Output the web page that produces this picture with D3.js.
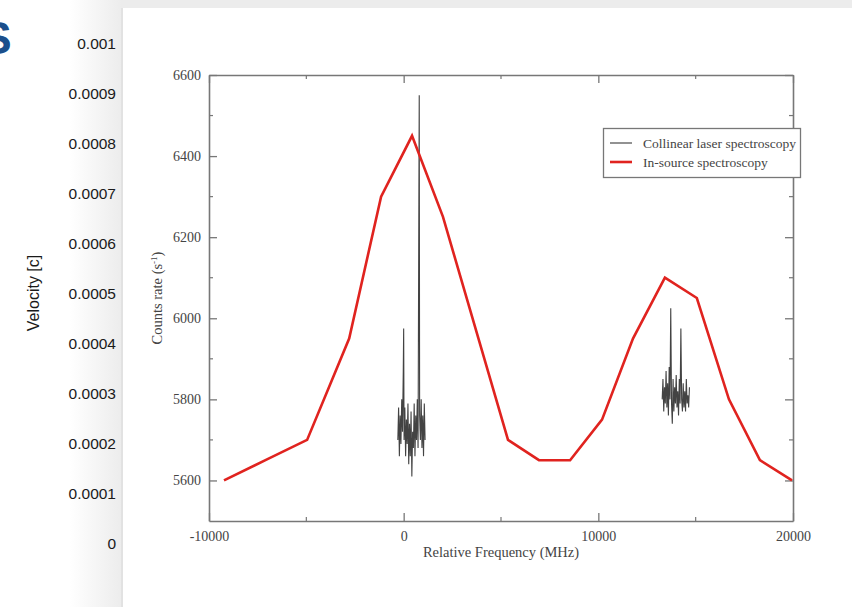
<!DOCTYPE html>
<html><head><meta charset="utf-8">
<script src="https://cdn.jsdelivr.net/npm/d3@7"></script>
<style>body{margin:0;background:#fff}svg{display:block}</style>
</head><body>
<svg id="c" width="852" height="607"></svg>
<script>
// ---- data ----
const velocityTicks = [0, 0.0001, 0.0002, 0.0003, 0.0004, 0.0005, 0.0006, 0.0007, 0.0008, 0.0009, 0.001];
const freqTicks = [-10000, 0, 10000, 20000];
const countTicks = [5600, 5800, 6000, 6200, 6400, 6600];
const inSourceFreq = [-9230, -7100, -4960, -2800, -1160, 430, 2020, 5360, 6950, 8550, 10190, 11780, 13420, 15060, 16710, 18300, 19950];
const inSourceCounts = [5600, 5650, 5700, 5950, 6300, 6450, 6250, 5700, 5650, 5650, 5750, 5950, 6100, 6050, 5800, 5650, 5600];
const collinear1Freq = [-300,-260,-220,-180,-140,-100,-60,-20,0,20,60,100,140,180,220,260,300,340,380,420,460,500,540,580,620,660,700,740,780,800,820,860,900,940,980,1020,1060,1100];
const collinear1Counts = [5700,5780,5660,5760,5690,5800,5720,5870,5975,5700,5780,5660,5750,5690,5790,5640,5740,5660,5770,5610,5720,5680,5790,5660,5760,5700,5800,5680,6280,6550,5760,5700,5800,5680,5760,5660,5790,5700];
const collinear2Freq = [13280,13320,13360,13400,13440,13480,13520,13560,13600,13640,13680,13720,13760,13800,13840,13880,13920,13960,14000,14040,14080,14120,14160,14200,14240,14280,14320,14360,14400,14440,14480,14520,14560,14600,14640,14680];
const collinear2Counts = [5800,5850,5770,5830,5790,5870,5780,5840,5760,5880,5800,6025,5790,5740,5850,5770,5830,5790,5860,5780,5820,5760,5850,5790,5975,5800,5770,5840,5780,5820,5770,5850,5790,5810,5780,5830];
const legendLabels = ["Collinear laser spectroscopy", "In-source spectroscopy"];

const svg = d3.select("#c");
// ---- background ----
const defs = svg.append("defs");
const g1 = defs.append("linearGradient").attr("id","lg").attr("x1","0").attr("x2","1").attr("y1","0").attr("y2","0");
g1.append("stop").attr("offset","0").attr("stop-color","#ffffff");
g1.append("stop").attr("offset","1").attr("stop-color","#ececec");
svg.append("rect").attr("x",0).attr("y",0).attr("width",852).attr("height",607).attr("fill","#fff");
svg.append("rect").attr("x",70).attr("y",0).attr("width",52).attr("height",607).attr("fill","url(#lg)");
svg.append("rect").attr("x",121).attr("y",0).attr("width",731).attr("height",8).attr("fill","#ececec");
svg.append("rect").attr("x",121).attr("y",8).attr("width",2).attr("height",599).attr("fill","#e2e2e2");
svg.append("rect").attr("x",123).attr("y",8).attr("width",729).attr("height",599).attr("fill","#fff");

// cut-off blue glyph (cut at the left edge in the reference too)
svg.append("text").attr("x",-19).attr("y",54).attr("font-family","Liberation Sans, Arial").attr("font-weight","bold")
  .attr("font-size",46).attr("fill","#1b4f8c").text("S");

// ---- velocity axis ----
const vy = d3.scaleLinear().domain([0, 0.001]).range([544, 44]);
const vfmt = d3.format("~g");
svg.append("g").selectAll("text").data(velocityTicks).join("text")
  .attr("x",116).attr("y",d=>vy(d)).attr("dy","0.35em").attr("text-anchor","end")
  .attr("font-family","Liberation Sans, Arial").attr("font-size",15.5).attr("fill","#1a1a1a")
  .text(d=>vfmt(d));
svg.append("text").attr("transform","translate(39,293) rotate(-90)").attr("text-anchor","middle")
  .attr("font-family","Liberation Sans, Arial").attr("font-size",16).attr("fill","#1a1a1a").text("Velocity [c]");

// ---- inner chart ----
const x = d3.scaleLinear().domain([-10000, 20000]).range([209, 793]);
const y = d3.scaleLinear().domain([5500, 6600]).range([521, 75]);
const serif = "Liberation Serif, Times New Roman, serif";
const axisCol = "#777";
const tickCol = "#444";
const hyphenFmt = d => String(d);

function styleAxis(g){
  g.selectAll("path.domain").attr("stroke",axisCol).attr("stroke-width",1.6);
  g.selectAll(".tick line").attr("stroke",axisCol).attr("stroke-width",1.3);
  g.selectAll(".tick text").attr("font-family",serif).attr("font-size",14).attr("fill",tickCol);
}
const xb = svg.append("g").attr("transform","translate(0,521)")
  .call(d3.axisBottom(x).tickValues(freqTicks).tickSize(-8).tickSizeOuter(0).tickPadding(10).tickFormat(hyphenFmt));
styleAxis(xb);
xb.selectAll(".tick text").attr("dy","0.71em");
const xt = svg.append("g").attr("transform","translate(0,75)")
  .call(d3.axisTop(x).tickValues(freqTicks).tickSize(-8).tickSizeOuter(0).tickFormat(""));
styleAxis(xt);
const yl = svg.append("g").attr("transform","translate(209,0)")
  .call(d3.axisLeft(y).tickValues(countTicks).tickSize(-8).tickSizeOuter(0).tickPadding(8).tickFormat(hyphenFmt));
styleAxis(yl);
const yr = svg.append("g").attr("transform","translate(793,0)")
  .call(d3.axisRight(y).tickValues(countTicks).tickSize(-8).tickSizeOuter(0).tickFormat(""));
styleAxis(yr);
// minor ticks
const xMinor = [-5000, 5000, 15000];
const yMinor = [5700, 5900, 6100, 6300, 6500];
svg.append("g").selectAll("line").data(xMinor).join("line")
  .attr("x1",d=>x(d)).attr("x2",d=>x(d)).attr("y1",521).attr("y2",517).attr("stroke",axisCol).attr("stroke-width",1.2);
svg.append("g").selectAll("line").data(xMinor).join("line")
  .attr("x1",d=>x(d)).attr("x2",d=>x(d)).attr("y1",75).attr("y2",79).attr("stroke",axisCol).attr("stroke-width",1.2);
svg.append("g").selectAll("line").data(yMinor).join("line")
  .attr("x1",209).attr("x2",213).attr("y1",d=>y(d)).attr("y2",d=>y(d)).attr("stroke",axisCol).attr("stroke-width",1.2);
svg.append("g").selectAll("line").data(yMinor).join("line")
  .attr("x1",793).attr("x2",789).attr("y1",d=>y(d)).attr("y2",d=>y(d)).attr("stroke",axisCol).attr("stroke-width",1.2);

// axis titles
svg.append("text").attr("x",501).attr("y",557).attr("text-anchor","middle")
  .attr("font-family",serif).attr("font-size",14.5).attr("fill","#444").text("Relative Frequency (MHz)");
const yt = svg.append("text").attr("transform","translate(162,298) rotate(-90)").attr("text-anchor","middle")
  .attr("font-family",serif).attr("font-size",14.5).attr("fill","#444");
yt.append("tspan").text("Counts rate (s");
yt.append("tspan").attr("font-size",9).attr("dy",-5).text("-1");
yt.append("tspan").attr("dy",5).text(")");

// lines
const line = d3.line().x(d=>x(d[0])).y(d=>y(d[1]));
const c1 = collinear1Freq.map((f,i)=>[f, collinear1Counts[i]]);
const c2 = collinear2Freq.map((f,i)=>[f, collinear2Counts[i]]);
const ins = inSourceFreq.map((f,i)=>[f, inSourceCounts[i]]);
[c1,c2].forEach(d=>svg.append("path").datum(d).attr("d",line).attr("fill","none")
  .attr("stroke","#222").attr("stroke-width",1.1).attr("stroke-opacity",0.85));
svg.append("path").datum(ins).attr("d",line).attr("fill","none").attr("stroke","#e0231f")
  .attr("stroke-width",2.6).attr("stroke-linejoin","miter");

// legend
const lg = svg.append("g");
lg.append("rect").attr("x",603.5).attr("y",128.5).attr("width",197).attr("height",49)
  .attr("fill","#fff").attr("stroke","#777").attr("stroke-width",1.3);
const legendColors = ["#777", "#e0231f"];
legendLabels.forEach((t,i)=>{
  lg.append("line").attr("x1",610).attr("x2",632).attr("y1",143+i*19).attr("y2",143+i*19)
    .attr("stroke",legendColors[i]).attr("stroke-width",i?2.6:1.6);
  lg.append("text").attr("x",643).attr("y",143+i*19).attr("dy","0.35em")
    .attr("font-family",serif).attr("font-size",13.5).attr("fill","#444").text(t);
});
</script>
</body></html>
